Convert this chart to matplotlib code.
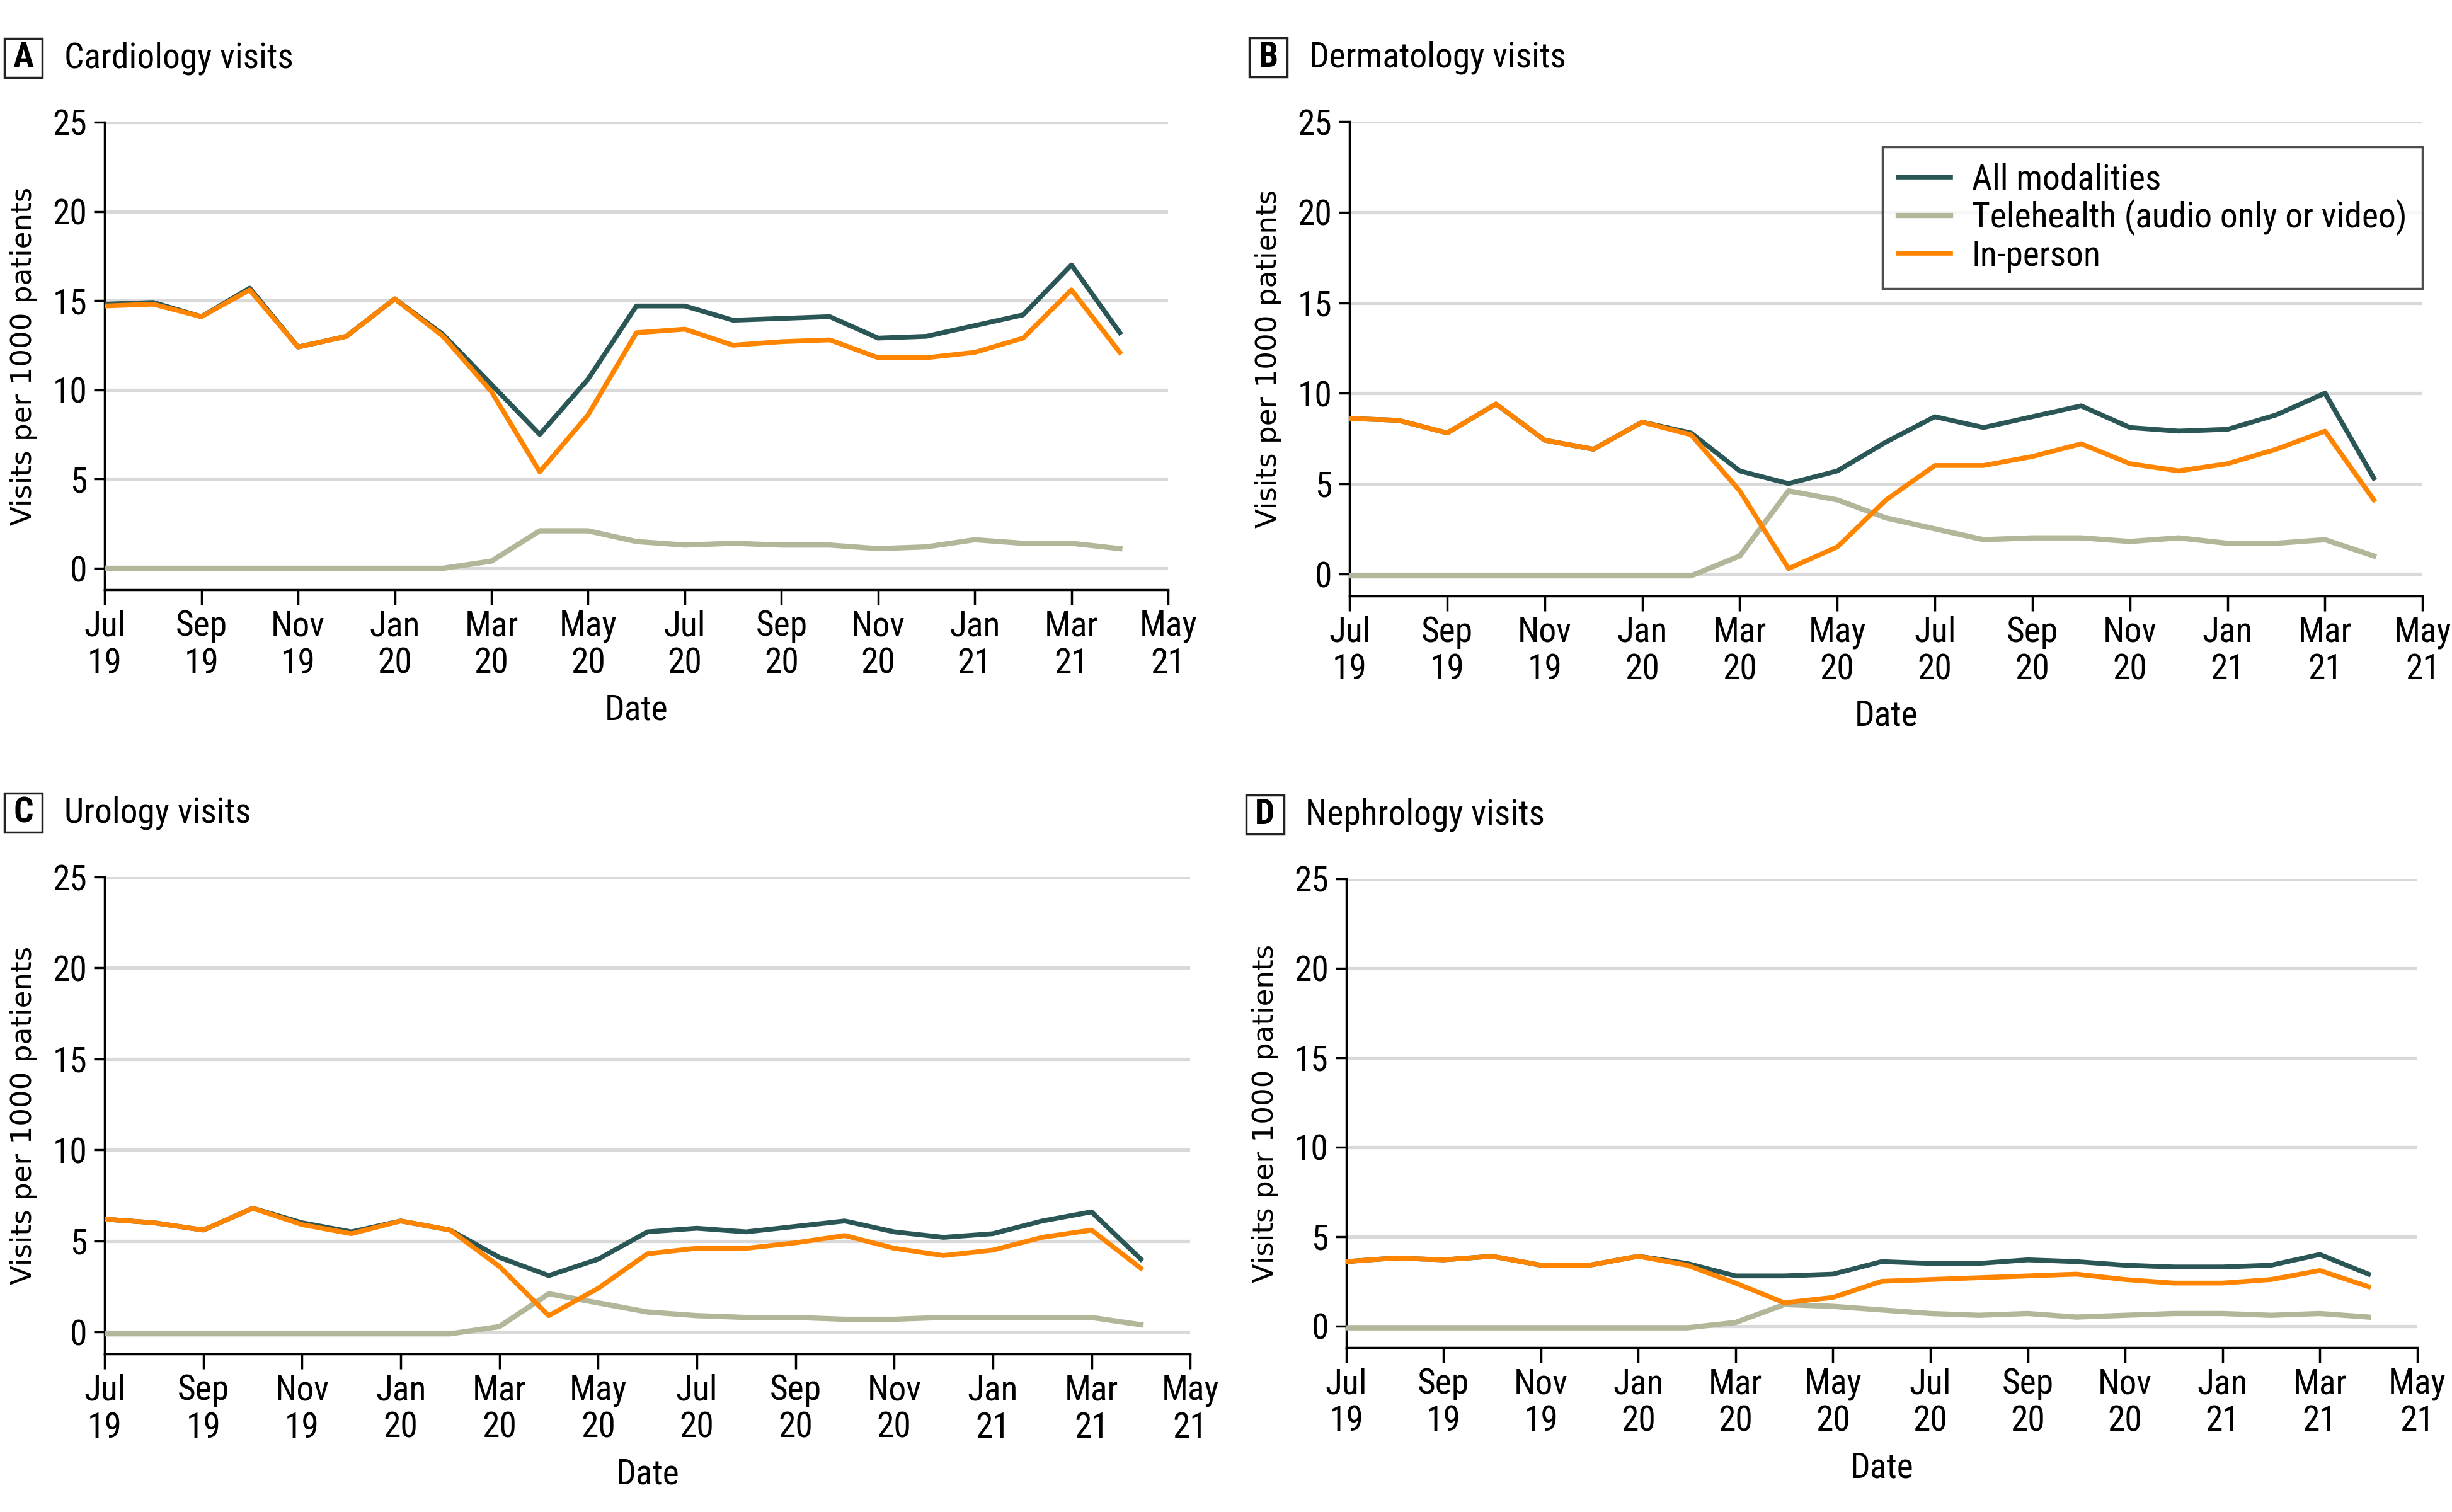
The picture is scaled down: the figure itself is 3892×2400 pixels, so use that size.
import matplotlib
matplotlib.use("Agg")
import matplotlib.pyplot as plt
from matplotlib import font_manager
from matplotlib.patches import Rectangle

# monthly values, Jul 2019 .. Apr 2021
months = ["Jul 19", "Aug 19", "Sep 19", "Oct 19", "Nov 19", "Dec 19",
          "Jan 20", "Feb 20", "Mar 20", "Apr 20", "May 20", "Jun 20",
          "Jul 20", "Aug 20", "Sep 20", "Oct 20", "Nov 20", "Dec 20",
          "Jan 21", "Feb 21", "Mar 21", "Apr 21"]
tick_labels = ["Jul\n19", "Sep\n19", "Nov\n19", "Jan\n20", "Mar\n20", "May\n20",
               "Jul\n20", "Sep\n20", "Nov\n20", "Jan\n21", "Mar\n21", "May\n21"]

cardio_all = [14.8, 14.9, 14.1, 15.7, 12.4, 13.0, 15.1, 13.1, 10.3, 7.5, 10.6,
              14.7, 14.7, 13.9, 14.0, 14.1, 12.9, 13.0, 13.6, 14.2, 17.0, 13.2]
cardio_tele = [0.0, 0.0, 0.0, 0.0, 0.0, 0.0, 0.0, 0.0, 0.4, 2.1, 2.1,
               1.5, 1.3, 1.4, 1.3, 1.3, 1.1, 1.2, 1.6, 1.4, 1.4, 1.1]
cardio_inp = [14.7, 14.8, 14.1, 15.6, 12.4, 13.0, 15.1, 13.0, 9.9, 5.4, 8.6,
              13.2, 13.4, 12.5, 12.7, 12.8, 11.8, 11.8, 12.1, 12.9, 15.6, 12.1]

derm_all = [8.6, 8.5, 7.8, 9.4, 7.4, 6.9, 8.4, 7.8, 5.7, 5.0, 5.7,
            7.3, 8.7, 8.1, 8.7, 9.3, 8.1, 7.9, 8.0, 8.8, 10.0, 5.3]
derm_tele = [-0.1, -0.1, -0.1, -0.1, -0.1, -0.1, -0.1, -0.1, 1.0, 4.6, 4.1,
             3.1, 2.5, 1.9, 2.0, 2.0, 1.8, 2.0, 1.7, 1.7, 1.9, 1.0]
derm_inp = [8.6, 8.5, 7.8, 9.4, 7.4, 6.9, 8.4, 7.7, 4.6, 0.3, 1.5,
            4.1, 6.0, 6.0, 6.5, 7.2, 6.1, 5.7, 6.1, 6.9, 7.9, 4.1]

uro_all = [6.2, 6.0, 5.6, 6.8, 6.0, 5.5, 6.1, 5.6, 4.1, 3.1, 4.0,
           5.5, 5.7, 5.5, 5.8, 6.1, 5.5, 5.2, 5.4, 6.1, 6.6, 4.0]
uro_tele = [-0.1, -0.1, -0.1, -0.1, -0.1, -0.1, -0.1, -0.1, 0.3, 2.1, 1.6,
            1.1, 0.9, 0.8, 0.8, 0.7, 0.7, 0.8, 0.8, 0.8, 0.8, 0.4]
uro_inp = [6.2, 6.0, 5.6, 6.8, 5.9, 5.4, 6.1, 5.6, 3.6, 0.9, 2.4,
           4.3, 4.6, 4.6, 4.9, 5.3, 4.6, 4.2, 4.5, 5.2, 5.6, 3.5]

neph_all = [3.6, 3.8, 3.7, 3.9, 3.4, 3.4, 3.9, 3.5, 2.8, 2.8, 2.9,
            3.6, 3.5, 3.5, 3.7, 3.6, 3.4, 3.3, 3.3, 3.4, 4.0, 2.9]
neph_tele = [-0.1, -0.1, -0.1, -0.1, -0.1, -0.1, -0.1, -0.1, 0.2, 1.2, 1.1,
             0.9, 0.7, 0.6, 0.7, 0.5, 0.6, 0.7, 0.7, 0.6, 0.7, 0.5]
neph_inp = [3.6, 3.8, 3.7, 3.9, 3.4, 3.4, 3.9, 3.4, 2.4, 1.3, 1.6,
            2.5, 2.6, 2.7, 2.8, 2.9, 2.6, 2.4, 2.4, 2.6, 3.1, 2.2]

C_ALL = "#2a5656"
C_TELE = "#b3b699"
C_INP = "#ff8500"


def pick_narrow():
    # look for a condensed face, else fall back to Roboto (narrower than DejaVu)
    fonts = font_manager.fontManager.ttflist
    names = {f.name for f in fonts}
    for n in ["Liberation Sans Narrow", "Roboto Condensed", "Open Sans Condensed",
              "Noto Sans Condensed", "DejaVu Sans Condensed"]:
        if n in names:
            return {"family": n}
    for f in fonts:
        if "condensed" in str(f.stretch) and f.style == "normal" and "Mono" not in f.name \
                and "Serif" not in f.name and "CJK" not in f.name:
            return {"family": f.name, "stretch": "condensed"}
    return {"family": "Roboto"}


NARROW = pick_narrow()
FS = 16

fig = plt.figure(figsize=(15.568, 9.6), dpi=250)

panels = [
    ("A", "Cardiology visits", cardio_all, cardio_tele, cardio_inp, [0.0427, 0.610, 0.4337, 0.3092]),
    ("B", "Dermatology visits", derm_all, derm_tele, derm_inp, [0.5504, 0.606, 0.4376, 0.3134]),
    ("C", "Urology visits", uro_all, uro_tele, uro_inp, [0.0427, 0.1046, 0.4427, 0.3154]),
    ("D", "Nephrology visits", neph_all, neph_tele, neph_inp, [0.5490, 0.1088, 0.4368, 0.3100]),
]

x = list(range(len(months)))

for letter, title, v_all, v_tele, v_inp, pos in panels:
    ax = fig.add_axes(pos)
    ax.plot(x, v_all, color=C_ALL, lw=2.2, label="All modalities", zorder=3)
    ax.plot(x, v_tele, color=C_TELE, lw=2.4, label="Telehealth (audio only or video)", zorder=3)
    ax.plot(x, v_inp, color=C_INP, lw=2.2, label="In-person", zorder=4)

    ax.set_xlim(0, 22)
    ax.set_ylim(-1.2, 25)
    ax.set_yticks([0, 5, 10, 15, 20, 25])
    ax.set_xticks(range(0, 23, 2))
    ax.set_xticklabels(tick_labels, fontsize=FS, linespacing=1.15, **NARROW)
    for lab in ax.get_yticklabels():
        lab.set_fontproperties(font_manager.FontProperties(size=FS, **NARROW))
    ax.yaxis.grid(True, color="#d9d9d9", lw=1.5)
    ax.set_axisbelow(True)
    for s in ("top", "right"):
        ax.spines[s].set_visible(False)
    for s in ("left", "bottom"):
        ax.spines[s].set_linewidth(1.0)
    ax.tick_params(axis="x", direction="out", length=7, width=1.0, pad=2)
    ax.tick_params(axis="y", direction="out", length=5, width=1.0, pad=3)

    ax.set_xlabel("Date", fontsize=FS, labelpad=6, **NARROW)
    ax.set_ylabel("Visits per 1000 patients", family="DejaVu Sans", fontsize=13, labelpad=7)

    # panel letter box + title
    fx0 = pos[0] - 0.0408
    ty = pos[1] + pos[3] + 0.0425
    fig.text(fx0 + 0.0077, ty, letter, fontweight="bold", fontsize=FS,
             ha="center", va="center", **NARROW)
    fig.patches.append(Rectangle((fx0, ty - 0.0129), 0.0154, 0.0258, transform=fig.transFigure,
                                 fill=False, ec="#222222", lw=1.0))
    fig.text(fx0 + 0.0243, ty, title, fontsize=FS, ha="left", va="center", **NARROW)

    if letter == "B":
        leg = ax.legend(loc="upper right", bbox_to_anchor=(1.0, 0.947), borderaxespad=0,
                        frameon=True, fancybox=False, edgecolor="#222222", handlelength=1.5,
                        handletextpad=0.6, labelspacing=0.1, borderpad=0.45,
                        prop=font_manager.FontProperties(size=FS, **NARROW))
        leg.get_frame().set_linewidth(1.0)

fig.savefig("out.png", dpi=250, facecolor="white")
